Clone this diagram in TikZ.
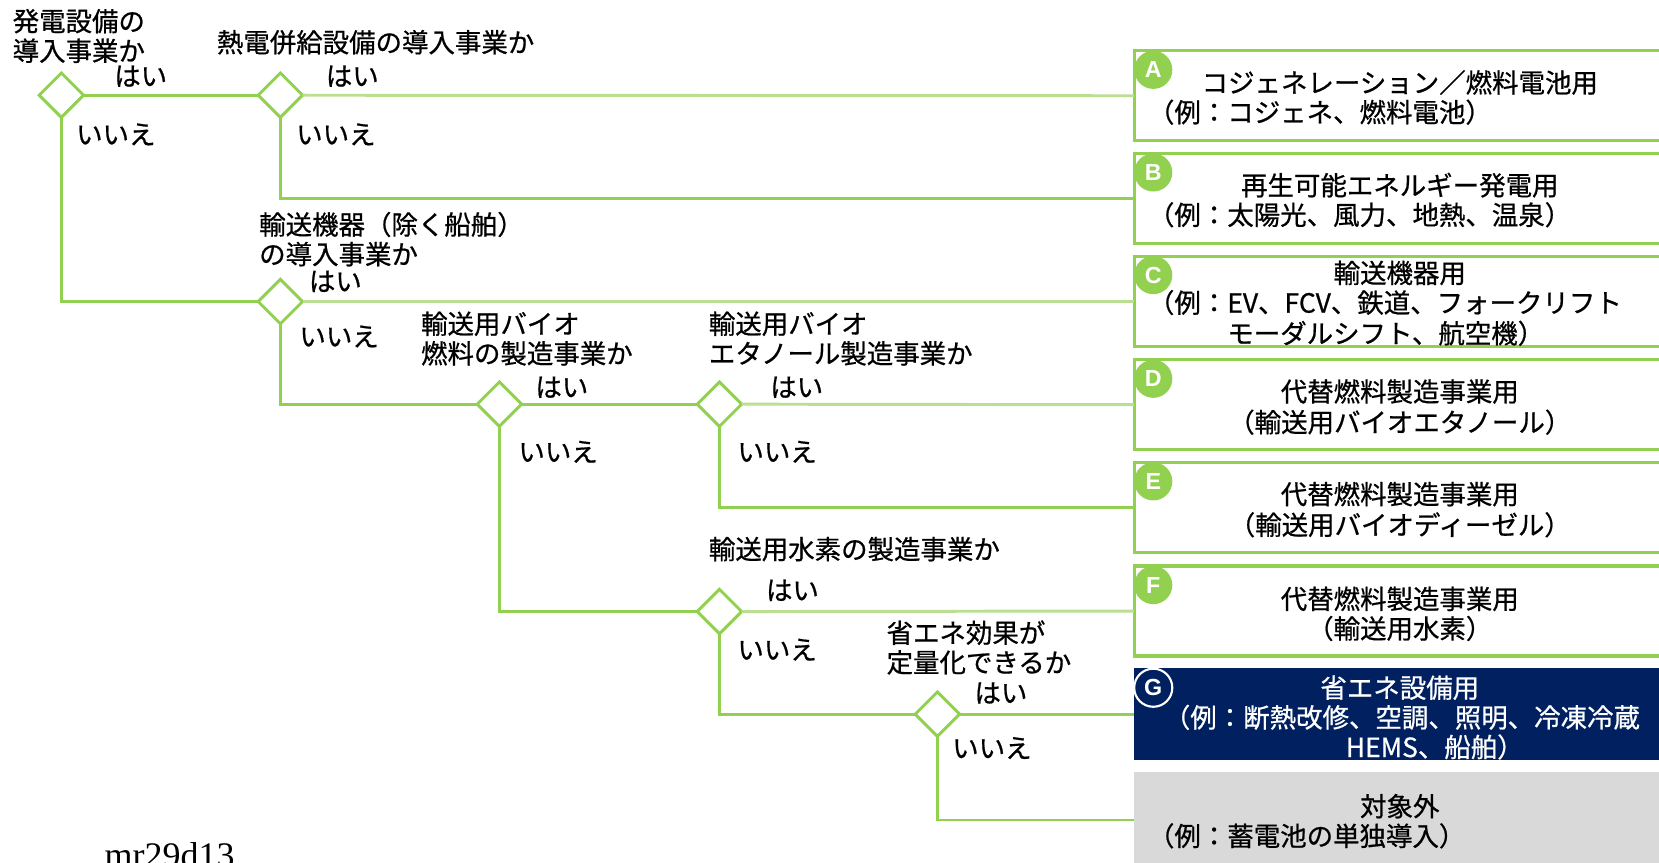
\documentclass[tikz,border=0pt]{standalone}
\usepackage{fontspec}
\setmainfont{Noto Sans CJK JP}[FakeBold=0.7]
\newfontfamily\latinserif{Liberation Serif}
\newfontfamily\lettersans{Liberation Sans}
\usetikzlibrary{shapes.geometric}
\definecolor{lgreen}{RGB}{146,208,80}
\definecolor{pgreen}{RGB}{186,222,146}
\definecolor{navy}{RGB}{0,32,96}
\definecolor{lgray}{RGB}{217,217,217}
\begin{document}
\begin{tikzpicture}[x=0.5pt,y=-0.5pt,
  every node/.style={inner sep=0pt,outer sep=0pt},
  txt/.style={font=\fontsize{12.5}{14}\selectfont,align=left,anchor=west},
  ctxt/.style={font=\fontsize{12.5}{14}\selectfont,anchor=center},
  dia/.style={diamond,draw=lgreen,line width=1.4pt,fill=white,minimum width=21pt,minimum height=21pt,aspect=1},
  box/.style={rectangle,draw=lgreen,line width=1.5pt,minimum width=254pt,minimum height=42.5pt,anchor=west},
  navybox/.style={rectangle,fill=navy,draw=navy,line width=0.5pt,minimum width=254pt,minimum height=43pt,anchor=west},
  graybox/.style={rectangle,fill=lgray,minimum width=254pt,minimum height=45pt,anchor=west},
  badge/.style={circle,fill=lgreen,minimum size=18pt,text=white,font=\lettersans\bfseries\fontsize{11}{11}\selectfont},
  badgeG/.style={circle,draw=white,line width=1pt,minimum size=18pt,text=white,font=\lettersans\bfseries\fontsize{11}{11}\selectfont},
  conn/.style={draw=lgreen,line width=1.4pt},
  connl/.style={draw=pgreen,line width=1.4pt}]
\useasboundingbox (0,0) rectangle (1568,815);

% boxes
\node[box] (A) at (1072,90.5) {};
\node[box] (B) at (1072,187.5) {};
\node[box] (C) at (1072,285) {};
\node[box] (D) at (1072,382.5) {};
\node[box] (E) at (1072,480) {};
\node[box] (F) at (1072,577.5) {};
\node[navybox] (G) at (1072,675) {};
\node[graybox] (H) at (1072,775) {};

% badges
\node[badge] (bA) at (1090,66) {A};
\node[badge] (bB) at (1090,163) {B};
\node[badge] (bC) at (1090,260) {C};
\node[badge] (bD) at (1090,358) {D};
\node[badge] (bE) at (1090,455) {E};
\node[badge] (bF) at (1090,553) {F};
\node[badgeG] (bG) at (1090,650) {G};

% box texts
\node[ctxt] (A1) at (1323,78) {コジェネレーション／燃料電池用};
\node[txt] (A2) at (1085,106) {（例：コジェネ、燃料電池）};
\node[ctxt] (B1) at (1323,175) {再生可能エネルギー発電用};
\node[txt] (B2) at (1085,203) {（例：太陽光、風力、地熱、温泉）};
\node[ctxt] (C1) at (1323,258) {輸送機器用};
\node[txt] (C2) at (1085,286) {（例：EV、FCV、鉄道、フォークリフト};
\node[txt] (C3) at (1160,315) {モーダルシフト、航空機）};
\node[ctxt] (D1) at (1323,370) {代替燃料製造事業用};
\node[ctxt] (D2) at (1323,399) {（輸送用バイオエタノール）};
\node[ctxt] (E1) at (1323,467) {代替燃料製造事業用};
\node[ctxt] (E2) at (1323,496) {（輸送用バイオディーゼル）};
\node[ctxt] (F1) at (1323,566) {代替燃料製造事業用};
\node[ctxt] (F2) at (1323,594) {（輸送用水素）};
\node[ctxt,text=white] (G1) at (1323,650) {省エネ設備用};
\node[txt,text=white] (G2) at (1100,678) {（例：断熱改修、空調、照明、冷凍冷蔵};
\node[txt,text=white] (G3) at (1272,706) {HEMS、船舶）};
\node[ctxt] (H1) at (1323,762) {対象外};
\node[txt] (H2) at (1085,790) {（例：蓄電池の単独導入）};

% diamonds
\node[dia] (d1) at (58,90) {};
\node[dia] (d2) at (265,90) {};
\node[dia] (d3) at (265,285) {};
\node[dia] (d4) at (472,382) {};
\node[dia] (d5) at (680,382) {};
\node[dia] (d6) at (680,578) {};
\node[dia] (d7) at (886,675) {};

% connectors
\draw[conn] (d1.east) -- (d2.west);
\draw[connl] (d2.east) -- (A.west);
\draw[conn] (d2.south) |- (B.west);
\draw[conn] (d1.south) |- (d3.west);
\draw[connl] (d3.east) -- (C.west);
\draw[conn] (d3.south) |- (d4.west);
\draw[conn] (d4.east) -- (d5.west);
\draw[connl] (d5.east) -- (D.west);
\draw[conn] (d5.south) |- (E.west);
\draw[conn] (d4.south) |- (d6.west);
\draw[connl] (d6.east) -- (F.west);
\draw[conn] (d6.south) |- (d7.west);
\draw[conn] (d7.east) -- (G.west);
\draw[conn] (d7.south) |- (H.west);

% questions
\node[txt] (q1) at (12,34) {発電設備の\\導入事業か};
\node[txt] (q2) at (205,40) {熱電併給設備の導入事業か};
\node[txt] (q3) at (245,226) {輸送機器（除く船舶）\\の導入事業か};
\node[txt] (q4) at (398,320) {輸送用バイオ\\燃料の製造事業か};
\node[txt] (q5) at (670,320) {輸送用バイオ\\エタノール製造事業か};
\node[txt] (q6) at (670,519) {輸送用水素の製造事業か};
\node[txt] (q7) at (838,612) {省エネ効果が\\定量化できるか};

% yes / no labels
\node[txt] (y1) at (108,72) {はい};
\node[txt] (n1) at (72,127) {いいえ};
\node[txt] (y2) at (308,72) {はい};
\node[txt] (n2) at (280,127) {いいえ};
\node[txt] (y3) at (292,266) {はい};
\node[txt] (n3) at (283,318) {いいえ};
\node[txt] (y4) at (506,366) {はい};
\node[txt] (n4) at (490,427) {いいえ};
\node[txt] (y5) at (728,366) {はい};
\node[txt] (n5) at (697,427) {いいえ};
\node[txt] (y6) at (724,558) {はい};
\node[txt] (n6) at (697,614) {いいえ};
\node[txt] (y7) at (921,655) {はい};
\node[txt] (n7) at (900,707) {いいえ};

% footer id
\node[anchor=base west,font=\latinserif\fontsize{17}{17}\selectfont] (id) at (99,820) {mr29d13};
\end{tikzpicture}
\end{document}
